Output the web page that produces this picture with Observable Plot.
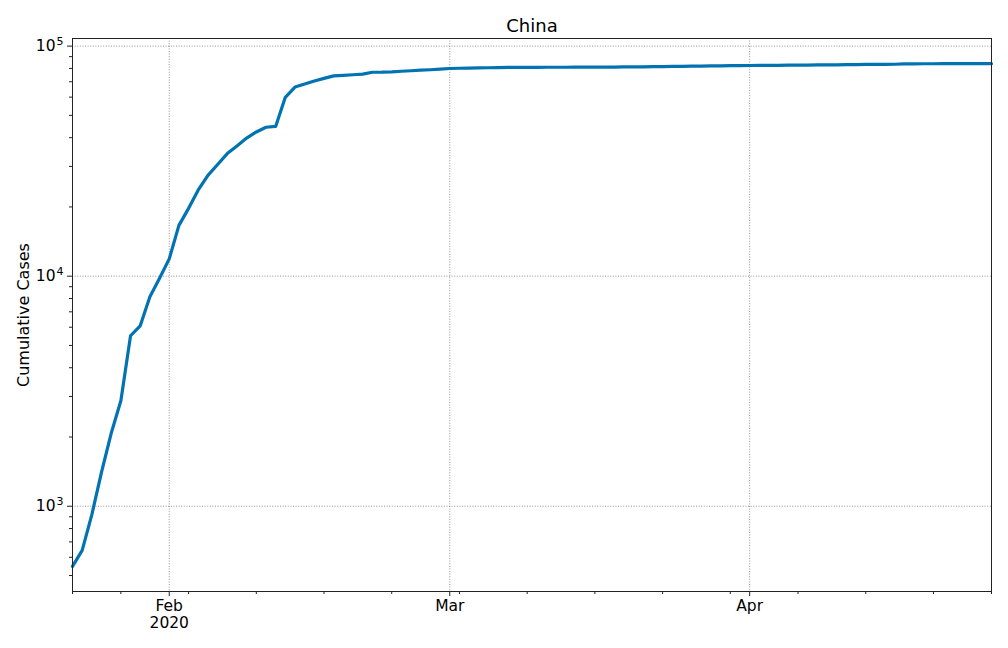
<!DOCTYPE html>
<html>
<head>
<meta charset="utf-8">
<script src="https://cdn.jsdelivr.net/npm/d3@7"></script>
<script src="https://cdn.jsdelivr.net/npm/@observablehq/plot@0.6"></script>
<style>
  html, body { margin: 0; padding: 0; background: #fff; }
  #chart svg { display: block; font-family: "DejaVu Sans", sans-serif; }
</style>
</head>
<body>
<div id="chart"></div>
<script>
const title = "China";
const yLabel = "Cumulative Cases";
const startDate = "2020-01-22";
const cases = [
  548, 643, 920, 1406, 2075, 2877, 5509, 6087, 8141, 9802,
  11891, 16630, 19716, 23707, 27440, 30587, 34110, 36814, 39829, 42354,
  44386, 44759, 59895, 66358, 68413, 70513, 72434, 74211, 74619, 75077,
  75550, 77001, 77022, 77241, 77754, 78166, 78600, 78928, 79356,
  79932, 80136, 80261, 80386, 80537, 80690, 80770, 80823, 80860, 80887,
  80921, 80932, 80945, 80977, 81003, 81033, 81058, 81102, 81156, 81250,
  81305, 81435, 81498, 81591, 81661, 81782, 81897, 81999, 82122, 82198,
  82279, 82361, 82432, 82511, 82543, 82602, 82665, 82718, 82809, 82883,
  82941, 83014, 83134, 83213, 83306, 83356, 83403, 83760, 83787, 83805,
  83817, 83853, 83868, 83884, 83899, 83909, 83912
];
const majorYTicks = [1e3, 1e4, 1e5];
const yTickExponents = ["3", "4", "5"];
const majorXTickDates = ["2020-02-01", "2020-03-01", "2020-04-01"];
const xTickLabels = ["Feb\n2020", "Mar", "Apr"];

const start = new Date(startDate + "T00:00:00Z");
const data = cases.map((v, i) => ({date: d3.utcDay.offset(start, i), cases: v}));
const end = data[data.length - 1].date;
const majorX = majorXTickDates.map(s => new Date(s + "T00:00:00Z"));
const minorX = [start, ...d3.utcMonday.range(start, d3.utcDay.offset(end, 1)), end];
const minorY = [];
for (let e = 2; e <= 5; e++) for (let m = 2; m <= 9; m++) minorY.push(m * 10 ** e);

const lo = Math.log10(d3.min(cases)), hi = Math.log10(d3.max(cases));
const pad = (hi - lo) * 0.05;
const yDomain = [10 ** (lo - pad), 10 ** (hi + pad)];

const gridStyle = {stroke: "#7a7a7a", strokeWidth: 0.8, strokeDasharray: "1,1.6"};

const chart = Plot.plot({
  width: 1008,
  height: 648,
  marginLeft: 72,
  marginRight: 17,
  marginTop: 38,
  marginBottom: 57,
  style: {fontFamily: "DejaVu Sans, sans-serif", fontSize: "15px", color: "#000"},
  x: {type: "utc", domain: [start, end]},
  y: {type: "log", domain: yDomain},
  marks: [
    Plot.ruleX(majorX, gridStyle),
    Plot.ruleY(majorYTicks, gridStyle),
    Plot.axisX({ticks: minorX, tickSize: 3, tickFormat: () => "", stroke: "#222", label: null}),
    Plot.axisX({ticks: majorX, tickSize: 5, tickFormat: () => "", stroke: "#222", label: null}),
    Plot.text(majorX, {x: d => d, text: (d, i) => xTickLabels[i], frameAnchor: "bottom",
      lineAnchor: "top", dy: 8, lineHeight: 1.08, fontSize: 15.5, fill: "#000"}),
    Plot.axisY({ticks: minorY.filter(v => v > yDomain[0] && v < yDomain[1]), tickSize: 3, tickFormat: () => "", stroke: "#222", label: null}),
    Plot.axisY({ticks: majorYTicks, tickSize: 5, tickPadding: 4, stroke: "#222", fontSize: 15.5,
      tickFormat: d => "10^" + yTickExponents[majorYTicks.indexOf(d)], label: null}),
    Plot.lineY(data, {x: "date", y: "cases", stroke: "#0173B2", strokeWidth: 3.2}),
    Plot.frame({stroke: "#222", strokeWidth: 1}),
    Plot.text([title], {frameAnchor: "top", lineAnchor: "middle", dy: -12, fontSize: 18, fill: "#000"}),
    Plot.text([yLabel], {frameAnchor: "left", textAnchor: "middle", lineAnchor: "middle", dx: -49, rotate: -90, fontSize: 16, fill: "#000"})
  ]
});

// render "10^n" tick labels with a raised, smaller exponent
chart.querySelectorAll("text").forEach(t => {
  const m = /^10\^(\d+)$/.exec(t.textContent);
  if (!m) return;
  t.textContent = "";
  const base = document.createElementNS("http://www.w3.org/2000/svg", "tspan");
  base.textContent = "10";
  const sup = document.createElementNS("http://www.w3.org/2000/svg", "tspan");
  sup.textContent = m[1];
  sup.setAttribute("font-size", "11");
  sup.setAttribute("dy", "-6");
  sup.setAttribute("dx", "1");
  t.appendChild(base);
  t.appendChild(sup);
});
document.getElementById("chart").appendChild(chart);
</script>
</body>
</html>
